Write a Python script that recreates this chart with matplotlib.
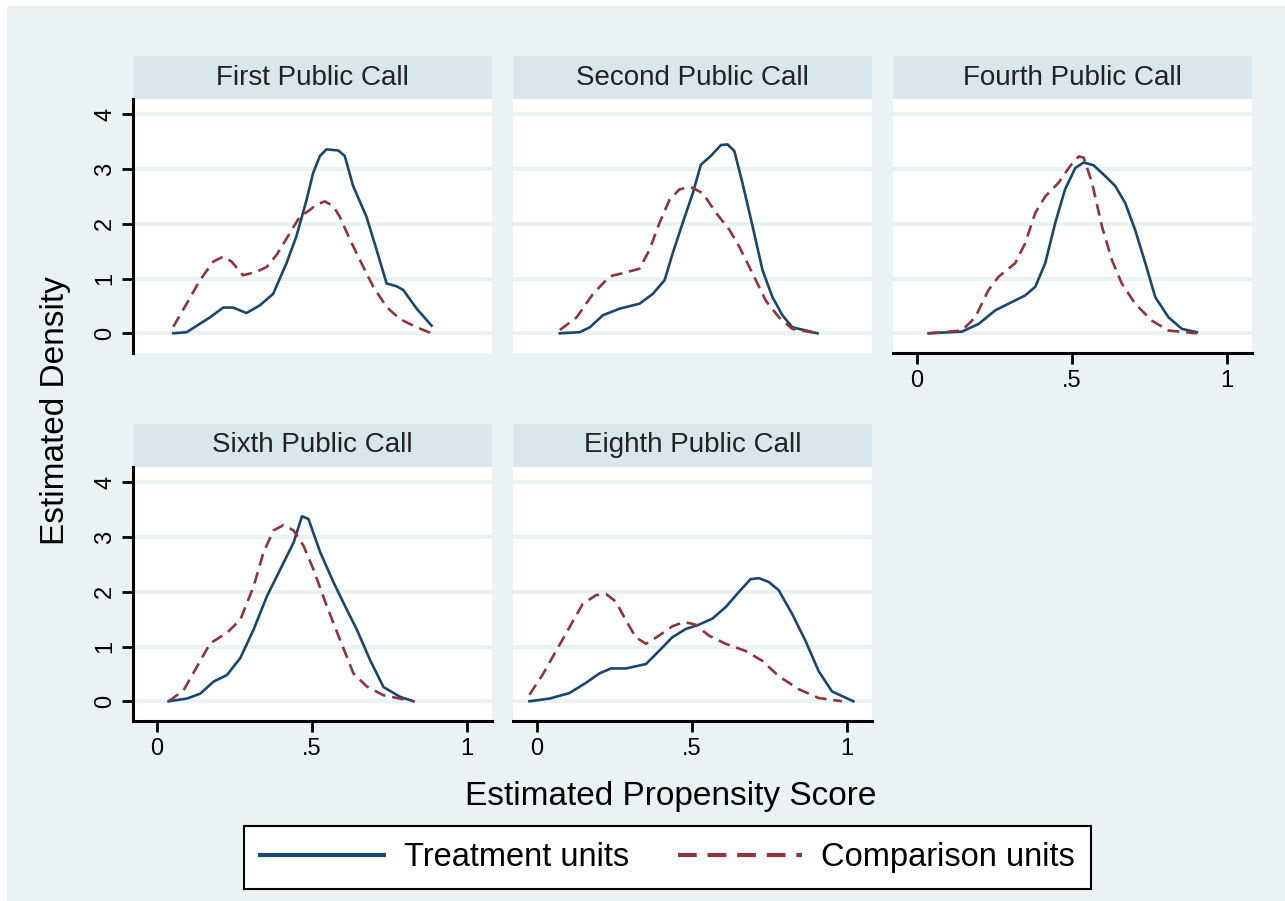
import matplotlib
matplotlib.use("Agg")
import matplotlib.pyplot as plt
from matplotlib.patches import Rectangle

plt.rcParams['font.family'] = ['Liberation Sans', 'DejaVu Sans']

# colours (Stata s2color look)
BG = '#EAF2F3'
STRIP = '#D9E6EB'
NAVY = '#1A476F'
MAROON = '#90353B'

panel_titles = ['First Public Call', 'Second Public Call', 'Fourth Public Call',
                'Sixth Public Call', 'Eighth Public Call']
legend_labels = ['Treatment units', 'Comparison units']
x_ticks = [0, 0.5, 1]
x_ticklabels = ['0', '.5', '1']
y_ticks = [0, 1, 2, 3, 4]

# First public call
first_x_treat = [0.053, 0.096, 0.171, 0.214, 0.246, 0.289, 0.332, 0.375, 0.418, 0.45, 0.483,
                 0.504, 0.526, 0.547, 0.585, 0.606, 0.633, 0.676, 0.709, 0.741, 0.773, 0.795,
                 0.838, 0.886]
first_y_treat = [0.0, 0.02, 0.29, 0.47, 0.47, 0.37, 0.51, 0.72, 1.28, 1.77, 2.44,
                 2.93, 3.24, 3.36, 3.34, 3.24, 2.69, 2.13, 1.52, 0.91, 0.86, 0.79,
                 0.45, 0.14]
first_x_comp = [0.053, 0.096, 0.139, 0.182, 0.214, 0.241, 0.278, 0.32, 0.354, 0.386, 0.429,
                0.461, 0.488, 0.515, 0.542, 0.569, 0.59, 0.623, 0.666, 0.698, 0.741, 0.784,
                0.838, 0.886]
first_y_comp = [0.12, 0.54, 0.97, 1.31, 1.40, 1.31, 1.06, 1.12, 1.21, 1.43, 1.83,
                2.13, 2.23, 2.35, 2.41, 2.32, 2.13, 1.71, 1.21, 0.85, 0.48, 0.26,
                0.11, 0.0]

# Second public call
second_x_treat = [0.074, 0.138, 0.171, 0.213, 0.267, 0.331, 0.374, 0.412, 0.438, 0.47, 0.503,
                  0.529, 0.561, 0.594, 0.615, 0.637, 0.663, 0.696, 0.728, 0.76, 0.792, 0.824,
                  0.905]
second_y_treat = [0.0, 0.02, 0.11, 0.33, 0.45, 0.54, 0.72, 0.97, 1.46, 2.01, 2.56,
                  3.08, 3.24, 3.44, 3.45, 3.33, 2.75, 1.95, 1.15, 0.66, 0.33, 0.11,
                  0.0]
second_x_comp = [0.074, 0.128, 0.181, 0.235, 0.278, 0.331, 0.363, 0.395, 0.428, 0.46, 0.497,
                 0.535, 0.578, 0.621, 0.653, 0.696, 0.738, 0.781, 0.824, 0.905]
second_y_comp = [0.06, 0.29, 0.72, 1.04, 1.10, 1.18, 1.52, 2.01, 2.44, 2.63, 2.67,
                 2.56, 2.20, 1.89, 1.58, 1.09, 0.60, 0.29, 0.08, 0.0]

# Fourth public call
fourth_x_treat = [0.038, 0.145, 0.199, 0.253, 0.306, 0.349, 0.382, 0.414, 0.446, 0.478, 0.511,
                  0.538, 0.57, 0.608, 0.64, 0.672, 0.704, 0.737, 0.769, 0.812, 0.855, 0.903]
fourth_y_treat = [0.0, 0.03, 0.17, 0.42, 0.57, 0.69, 0.85, 1.28, 2.01, 2.63, 3.02,
                  3.12, 3.07, 2.87, 2.69, 2.38, 1.89, 1.28, 0.66, 0.29, 0.08, 0.02]
fourth_x_comp = [0.038, 0.145, 0.188, 0.231, 0.263, 0.317, 0.349, 0.382, 0.414, 0.457, 0.495,
                 0.522, 0.538, 0.565, 0.597, 0.629, 0.661, 0.704, 0.758, 0.812, 0.903]
fourth_y_comp = [0.0, 0.05, 0.29, 0.79, 1.03, 1.28, 1.64, 2.20, 2.50, 2.75, 3.06,
                 3.23, 3.21, 2.75, 1.95, 1.34, 0.91, 0.54, 0.23, 0.05, 0.0]

# Sixth public call
sixth_x_treat = [0.038, 0.097, 0.14, 0.183, 0.226, 0.269, 0.312, 0.355, 0.398, 0.441, 0.468,
                 0.489, 0.527, 0.57, 0.613, 0.645, 0.688, 0.731, 0.785, 0.828]
sixth_y_treat = [0.0, 0.05, 0.14, 0.36, 0.48, 0.79, 1.31, 1.92, 2.41, 2.90, 3.38,
                 3.33, 2.72, 2.17, 1.67, 1.31, 0.75, 0.26, 0.08, 0.0]
sixth_x_comp = [0.038, 0.086, 0.129, 0.172, 0.226, 0.269, 0.312, 0.344, 0.376, 0.409, 0.441,
                0.473, 0.505, 0.548, 0.591, 0.634, 0.677, 0.731, 0.828]
sixth_y_comp = [0.0, 0.20, 0.63, 1.06, 1.25, 1.49, 2.10, 2.72, 3.12, 3.22, 3.12,
                2.84, 2.41, 1.74, 1.12, 0.51, 0.27, 0.11, 0.0]

# Eighth public call
eighth_x_treat = [-0.024, 0.041, 0.105, 0.159, 0.202, 0.239, 0.287, 0.352, 0.394, 0.437, 0.48,
                  0.523, 0.566, 0.609, 0.652, 0.689, 0.716, 0.748, 0.78, 0.823, 0.866, 0.909,
                  0.952, 1.021]
eighth_y_treat = [0.0, 0.05, 0.15, 0.34, 0.51, 0.60, 0.60, 0.68, 0.92, 1.17, 1.32,
                  1.40, 1.51, 1.72, 2.00, 2.23, 2.25, 2.18, 2.03, 1.60, 1.11, 0.55,
                  0.18, 0.0]
eighth_x_comp = [-0.024, 0.019, 0.062, 0.105, 0.148, 0.191, 0.223, 0.255, 0.287, 0.319, 0.352,
                 0.394, 0.437, 0.475, 0.512, 0.555, 0.609, 0.673, 0.727, 0.78, 0.845, 0.909,
                 0.984]
eighth_y_comp = [0.12, 0.49, 0.92, 1.35, 1.78, 1.94, 1.96, 1.82, 1.48, 1.17, 1.05,
                 1.20, 1.37, 1.45, 1.40, 1.20, 1.05, 0.92, 0.74, 0.46, 0.22, 0.06,
                 0.0]

panels = [
    (first_x_treat, first_y_treat, first_x_comp, first_y_comp),
    (second_x_treat, second_y_treat, second_x_comp, second_y_comp),
    (fourth_x_treat, fourth_y_treat, fourth_x_comp, fourth_y_comp),
    (sixth_x_treat, sixth_y_treat, sixth_x_comp, sixth_y_comp),
    (eighth_x_treat, eighth_y_treat, eighth_x_comp, eighth_y_comp),
]

W, H = 1285, 901
fig = plt.figure(figsize=(W / 100, H / 100), dpi=100, facecolor='white')
fig.add_artist(Rectangle((7 / W, 0), 1, 1 - 6 / H, transform=fig.transFigure,
                         facecolor=BG, edgecolor='none', zorder=-10))

col_left = [133, 513, 893]
row_top = [99, 467]
pw, ph = 359, 254

# which panels show x / y axes
show_x = [False, False, True, True, True]
show_y = [True, False, False, True, False]

handles = None
for i, (xt, yt, xc, yc) in enumerate(panels):
    r, c = divmod(i, 3)
    ax = fig.add_axes([col_left[c] / W, 1 - (row_top[r] + ph) / H, pw / W, ph / H])
    ax.set_facecolor('white')
    ax.set_xlim(-0.077, 1.081)
    ax.set_ylim(-0.36, 4.28)
    ax.set_yticks(y_ticks)
    ax.set_xticks(x_ticks)
    ax.set_axisbelow(True)
    ax.yaxis.grid(True, color=BG, lw=2.8)
    for s in ['top', 'right', 'left', 'bottom']:
        ax.spines[s].set_visible(False)

    lt, = ax.plot(xt, yt, color=NAVY, lw=1.9, solid_joinstyle='round')
    lc, = ax.plot(xc, yc, color=MAROON, lw=1.9, linestyle=(0, (4.5, 2.6)))
    if handles is None:
        handles = [lt, lc]

    if show_y[i]:
        ax.spines['left'].set_visible(True)
        ax.spines['left'].set_linewidth(2.2)
        ax.tick_params(axis='y', length=8, width=2, pad=4, labelsize=17,
                       labelrotation=90)
        for lab in ax.get_yticklabels():
            lab.set_va('center')
    else:
        ax.tick_params(axis='y', left=False, labelleft=False)

    if show_x[i]:
        ax.spines['bottom'].set_visible(True)
        ax.spines['bottom'].set_linewidth(2.2)
        ax.set_xticklabels(x_ticklabels)
        ax.tick_params(axis='x', length=8, width=2, pad=4, labelsize=17)
    else:
        ax.tick_params(axis='x', bottom=False, labelbottom=False)

    # title strip above the panel
    sh = 43 / ph
    ax.add_patch(Rectangle((0, 1.0), 1, sh, transform=ax.transAxes,
                           facecolor=STRIP, edgecolor='none', clip_on=False))
    ax.text(0.5, 1 + sh / 2, panel_titles[i], transform=ax.transAxes,
            ha='center', va='center', fontsize=20, color='#222222')

fig.text(56 / W, 1 - 411 / H, 'Estimated Density', rotation=90,
         ha='center', va='center', fontsize=24)
fig.text(671 / W, 1 - 796 / H, 'Estimated Propensity Score',
         ha='center', va='center', fontsize=24)

leg = fig.legend(handles, legend_labels, loc='center', ncol=2,
                 bbox_to_anchor=(667.5 / W, 1 - 857.5 / H), fontsize=23.5,
                 handlelength=3.8, handletextpad=0.6, columnspacing=1.5,
                 borderpad=0.5, fancybox=False, framealpha=1, edgecolor='black')
leg.get_frame().set_linewidth(1.5)
for line in leg.get_lines():
    line.set_linewidth(3)

fig.savefig('out.png', dpi=100, facecolor=fig.get_facecolor())
